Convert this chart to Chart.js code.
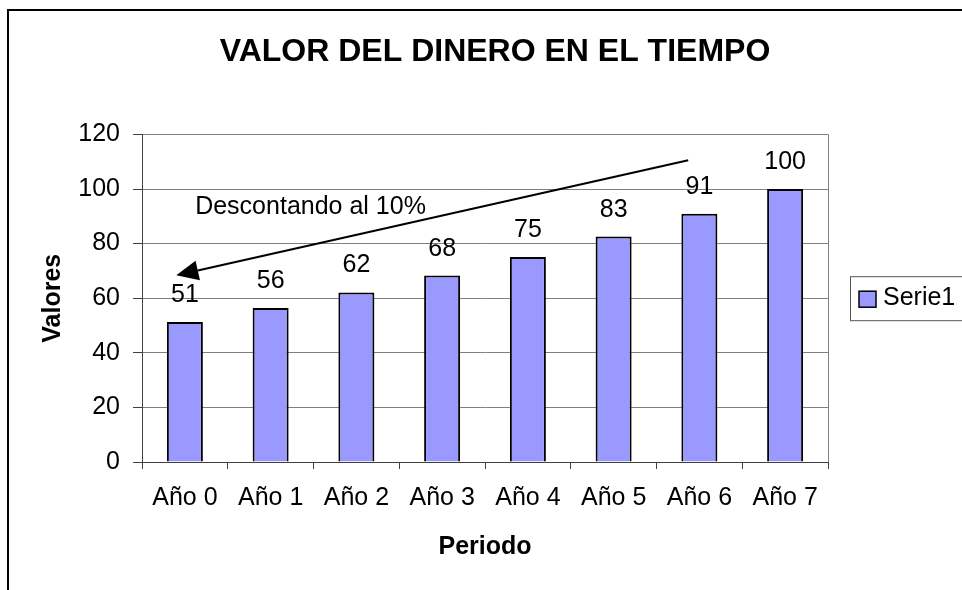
<!DOCTYPE html>
<html>
<head>
<meta charset="utf-8">
<script src="https://cdn.jsdelivr.net/npm/chart.js@4/dist/chart.umd.min.js"></script>
<style>
html,body{margin:0;padding:0;background:#fff;overflow:hidden;width:962px;height:590px}
#frame{position:absolute;left:7px;top:9px;width:1100px;height:700px;border-left:2px solid #000;border-top:2px solid #000}
#chart{position:absolute;left:0;top:0}
</style>
</head>
<body>
<div id="frame"></div>
<canvas id="chart" width="990" height="620"></canvas>
<script>

// data
let periods = ["Año 0","Año 1","Año 2","Año 3","Año 4","Año 5","Año 6","Año 7"]
let values = [51.3,56.4,62.1,68.3,75.1,82.6,90.9,100]
let seriesName = "Serie1"
let yTicks = [0,20,40,60,80,100,120]

// arrow annotation, in data units [category index, value]
let arrowFrom = [5.87,110.5]
let arrowTo = [-0.1,68.4]
let noteAt = [0.12,90.7]
let noteText = "Descontando al 10%"

const font = "'Liberation Sans', Arial, sans-serif"
Chart.defaults.font.family = font
Chart.defaults.color = "#000"

// ----------------------------
// VALUE LABELS + ARROW + LEGEND
// ----------------------------

const extras = {
id:"extras",
beforeDatasetsDraw(chart){
const a = chart.chartArea
const c = chart.ctx
c.save()
c.strokeStyle = "#808080"
c.lineWidth = 1
c.beginPath()
c.moveTo(a.right+0.5,a.top)
c.lineTo(a.right+0.5,a.bottom)
c.stroke()
c.restore()
},
afterDatasetsDraw(chart){
const c = chart.ctx
const x = chart.scales.x
const y = chart.scales.y
c.save()
c.font = "25px " + font
c.fillStyle = "#000"
c.textAlign = "center"
c.textBaseline = "alphabetic"
chart.getDatasetMeta(0).data.forEach((bar,i)=>{
c.fillText(Math.round(values[i]), bar.x, bar.y - 20)
})

// arrow
const x1 = x.getPixelForValue(arrowFrom[0]), y1 = y.getPixelForValue(arrowFrom[1])
const x2 = x.getPixelForValue(arrowTo[0]), y2 = y.getPixelForValue(arrowTo[1])
const ang = Math.atan2(y2-y1,x2-x1)
const headLen = 22, headW = 10
const bx = x2 - headLen*Math.cos(ang), by = y2 - headLen*Math.sin(ang)
c.strokeStyle = "#000"
c.lineWidth = 2
c.beginPath()
c.moveTo(x1,y1)
c.lineTo(bx,by)
c.stroke()
c.beginPath()
c.moveTo(x2,y2)
c.lineTo(bx + headW*Math.sin(ang), by - headW*Math.cos(ang))
c.lineTo(bx - headW*Math.sin(ang), by + headW*Math.cos(ang))
c.closePath()
c.fill()

c.textAlign = "left"
c.fillText(noteText, x.getPixelForValue(noteAt[0]), y.getPixelForValue(noteAt[1]))
c.restore()
},
afterDraw(chart){
const a = chart.chartArea
const c = chart.ctx
const ds = chart.data.datasets[0]
const lx = a.right + 22
const cy = (a.top + a.bottom)/2
c.save()
c.strokeStyle = "#555"
c.lineWidth = 1
c.strokeRect(lx+0.5, cy-22+0.5, 130, 44)
c.fillStyle = ds.backgroundColor
c.fillRect(lx+9, cy-7, 17, 16)
c.strokeStyle = "#000"
c.lineWidth = 1.5
c.strokeRect(lx+9, cy-7, 17, 16)
c.fillStyle = "#000"
c.font = "25px " + font
c.textBaseline = "middle"
c.fillText(ds.label, lx+33, cy)
c.restore()
}
}

new Chart(document.getElementById("chart"),{
type:"bar",
data:{
labels:periods,
datasets:[{
label:seriesName,
data:values,
backgroundColor:"#9999FF",
borderColor:"#000",
borderWidth:2,
barPercentage:0.42,
categoryPercentage:1
}]
},
options:{
responsive:false,
animation:false,
layout:{padding:{left:0,right:0,top:0,bottom:48}},
plugins:{
legend:{display:false},
tooltip:{enabled:false},
title:{
display:true,
text:"VALOR DEL DINERO EN EL TIEMPO",
color:"#000",
font:{size:32,weight:"bold"},
padding:{top:33,bottom:63}
}
},
scales:{
x:{
grid:{drawOnChartArea:false,drawTicks:true,tickLength:7,tickColor:"#404040"},
border:{color:"#404040",width:1},
ticks:{font:{size:25},color:"#000",padding:14,maxRotation:0},
title:{display:true,text:"Periodo",font:{size:25,weight:"bold"},color:"#000",padding:{top:0,bottom:10}},
afterFit:s=>{s.height = 110}
},
y:{
min:0,
max:120,
afterBuildTicks:s=>{s.ticks = yTicks.map(v=>({value:v}))},
grid:{color:"#808080",lineWidth:1,tickLength:9,tickColor:"#404040"},
border:{color:"#404040",width:1},
ticks:{font:{size:25},color:"#000",padding:13},
title:{display:true,text:"Valores",font:{size:25,weight:"bold"},color:"#000",padding:{top:38,bottom:0}},
afterFit:s=>{s.width = 142}
},
y2:{
position:"right",
display:true,
grid:{display:false},
border:{display:false},
ticks:{display:false},
afterFit:s=>{s.width = 162}
}
}
},
plugins:[extras]
})
</script>
</body>
</html>
